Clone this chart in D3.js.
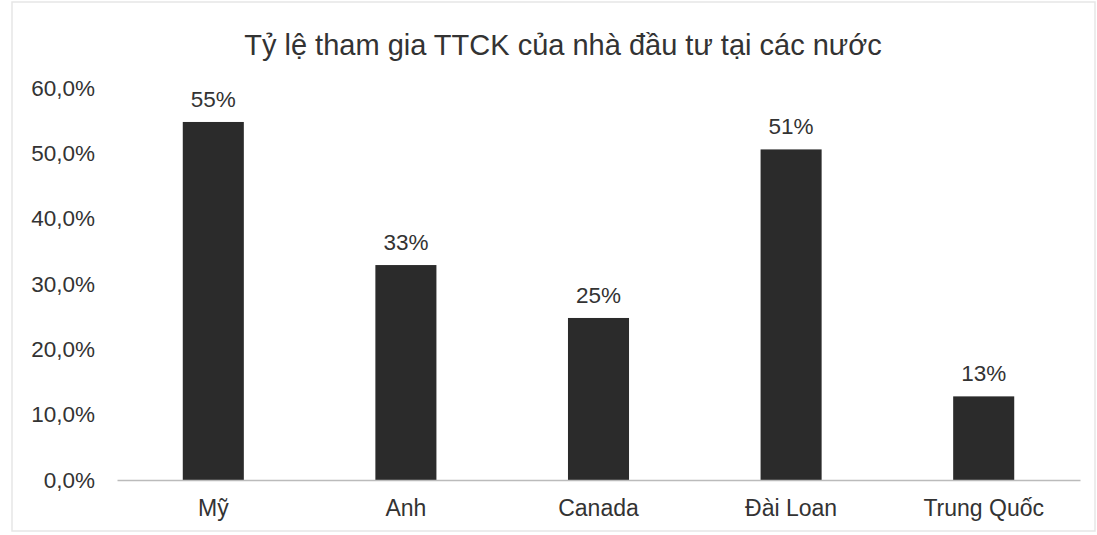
<!DOCTYPE html>
<html>
<head>
<meta charset="utf-8">
<script src="https://cdn.jsdelivr.net/npm/d3@7"></script>
<style>
  body { margin: 0; background: #fff; }
  text { font-family: "Liberation Sans", Arial, sans-serif; fill: #333; }
</style>
</head>
<body>
<svg id="chart" width="1097" height="535"></svg>
<script>
// data
var countries = ["Mỹ", "Anh", "Canada", "Đài Loan", "Trung Quốc"];
var shares = [0.548, 0.329, 0.248, 0.506, 0.128];
var yTicks = [0, 0.1, 0.2, 0.3, 0.4, 0.5, 0.6];
var title = "Tỷ lệ tham gia TTCK của nhà đầu tư tại các nước";

var svg = d3.select("#chart");
var W = 1097, H = 535;
var margin = { top: 88, right: 17, bottom: 55, left: 117 };

var vn = d3.formatLocale({ decimal: ",", thousands: ".", grouping: [3], currency: ["", "₫"] });
var tickFmt = vn.format(".1%");
var labelFmt = vn.format(".0%");

// faint scan frame
svg.append("rect")
  .attr("x", 12).attr("y", 2).attr("width", W - 14).attr("height", H - 6)
  .attr("fill", "none").attr("stroke", "#e6e6e6").attr("stroke-width", 1.5);

var x = d3.scaleBand()
  .domain(countries)
  .range([margin.left, W - margin.right])
  .paddingInner(0.683).paddingOuter(0.3415);

var y = d3.scaleLinear()
  .domain([0, 0.6])
  .range([H - margin.bottom, margin.top]);

svg.append("text")
  .attr("x", 563).attr("y", 55)
  .attr("text-anchor", "middle")
  .attr("font-size", 29)
  .attr("fill", "#222")
  .text(title);

var yAxis = svg.append("g")
  .attr("transform", "translate(" + (margin.left - 22) + ",0)")
  .call(d3.axisLeft(y).tickValues(yTicks).tickFormat(tickFmt).tickSize(0).tickPadding(0));
yAxis.select(".domain").remove();
yAxis.selectAll("text").attr("font-size", 22.5).attr("fill", "#333");

svg.selectAll(".bar")
  .data(shares)
  .enter()
  .append("rect")
  .attr("class", "bar")
  .attr("x", function(d, i) { return x(countries[i]); })
  .attr("y", function(d) { return y(d); })
  .attr("width", x.bandwidth())
  .attr("height", function(d) { return y(0) - y(d); })
  .attr("fill", "#2b2b2b");

var xAxis = svg.append("g")
  .attr("transform", "translate(0," + y(0) + ")")
  .call(d3.axisBottom(x).tickSize(0).tickPadding(20).tickSizeOuter(0));
xAxis.select(".domain").attr("stroke", "#bbb").attr("stroke-width", 1.5);
xAxis.selectAll("text").attr("font-size", 23).attr("fill", "#333");

svg.selectAll(".lbl")
  .data(shares)
  .enter()
  .append("text")
  .attr("class", "lbl")
  .attr("x", function(d, i) { return x(countries[i]) + x.bandwidth() / 2; })
  .attr("y", function(d) { return y(d) - 15; })
  .attr("text-anchor", "middle")
  .attr("font-size", 22.5)
  .text(function(d) { return labelFmt(d); });
</script>
</body>
</html>
